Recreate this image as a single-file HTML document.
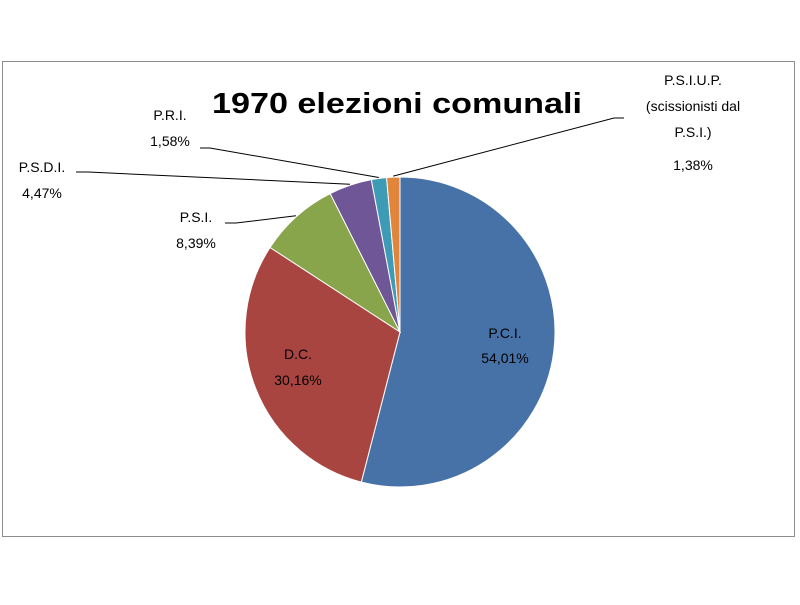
<!DOCTYPE html>
<html><head><meta charset="utf-8"><style>
body{margin:0;background:#fff;}
svg text{font-family:"Liberation Sans",sans-serif;}
</style></head><body>
<svg width="800" height="600" viewBox="0 0 800 600">
<rect x="2.5" y="61.5" width="792" height="475" fill="#fff" stroke="#8c8c8c"/>
<text x="397" y="113" text-anchor="middle" font-size="29" font-weight="bold" fill="#000" textLength="370" lengthAdjust="spacingAndGlyphs">1970 elezioni comunali</text>
<g id="slices"></g>
<g id="labels" font-size="14" fill="#000"></g>
</svg>
<script>
const categories=["P.C.I.","D.C.","P.S.I.","P.S.D.I.","P.R.I.","P.S.I.U.P."];
const values=[54.01,30.16,8.39,4.47,1.58,1.38];
const valueLabels=["54,01%","30,16%","8,39%","4,47%","1,58%","1,38%"];
const colors=["#4672a8","#a94541","#89a54b","#6e5697","#3d9bb5","#e0853a"];
const cx=400,cy=332,r=155;
const total=values.reduce((a,b)=>a+b,0);
const NS="http://www.w3.org/2000/svg";
const sg=document.getElementById('slices'),lg=document.getElementById('labels');
function pt(a,rr){return [cx+rr*Math.sin(a),cy-rr*Math.cos(a)];}
let acc=0;const mids=[];
values.forEach((v,i)=>{
 const a0=acc/total*2*Math.PI;acc+=v;const a1=acc/total*2*Math.PI;
 mids.push((a0+a1)/2);
 const p0=pt(a0,r),p1=pt(a1,r);
 const p=document.createElementNS(NS,'path');
 p.setAttribute('d',`M${cx},${cy}L${p0[0]},${p0[1]}A${r},${r} 0 ${a1-a0>Math.PI?1:0} 1 ${p1[0]},${p1[1]}Z`);
 p.setAttribute('fill',colors[i]);p.setAttribute('stroke','#fff');p.setAttribute('stroke-width','1');
 
 
 sg.appendChild(p);
});
function txt(x,y,s,name){const t=document.createElementNS(NS,'text');t.setAttribute('x',x);t.setAttribute('y',y);t.setAttribute('text-anchor','middle');t.textContent=s;
 
 
 lg.appendChild(t);}
function line(pts,name){const l=document.createElementNS(NS,'polyline');l.setAttribute('points',pts.map(p=>p.join(',')).join(' '));l.setAttribute('fill','none');l.setAttribute('stroke','#000');l.setAttribute('stroke-width','1');
 
 
 lg.appendChild(l);}
// inside labels
txt(505,338,categories[0],'label-pci');txt(505,363,valueLabels[0],'value-pci');
txt(298,359,categories[1],'label-dc');txt(298,385,valueLabels[1],'value-dc');
// outside labels with leaders
txt(196,222,categories[2],'label-psi');txt(196,248,valueLabels[2],'value-psi');
line([[225,223],[236,223],pt(mids[2],r+1)],'leader-psi');
txt(42,172,categories[3],'label-psdi');txt(42,198,valueLabels[3],'value-psdi');
line([[76,172],[88,172],pt(mids[3],r+1)],'leader-psdi');
txt(170,120,categories[4],'label-pri');txt(170,146,valueLabels[4],'value-pri');
line([[200,148],[210,148],pt(mids[4],r+1)],'leader-pri');
txt(693,85,categories[5],'label-psiup');txt(693,111,"(scissionisti dal",'label-psiup-2');txt(693,137,"P.S.I.)",'label-psiup-3');txt(693,170,valueLabels[5],'value-psiup');
line([[624,118],[614,118],pt(mids[5],r+1)],'leader-psiup');
</script>
</body></html>
